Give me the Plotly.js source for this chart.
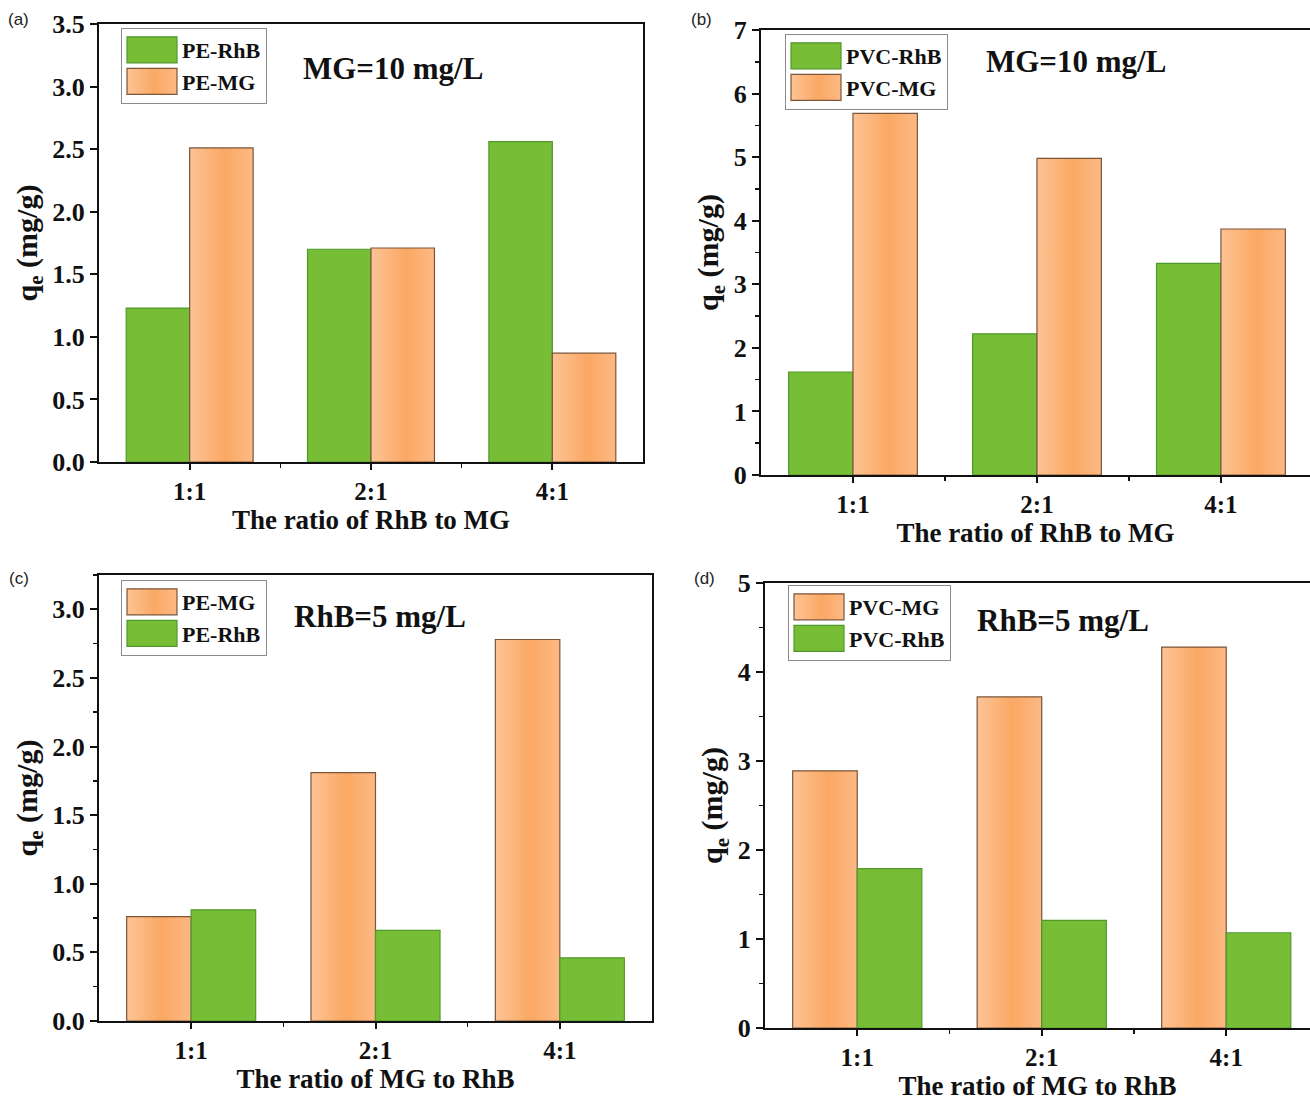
<!DOCTYPE html>
<html>
<head>
<meta charset="utf-8">
<script src="https://cdn.plot.ly/plotly-3.0.1.min.js"></script>
<style>
  html, body { margin: 0; padding: 0; background: #fff; }
  #chart { width: 1310px; height: 1101px; }
</style>
</head>
<body>
<div id="chart"></div>
<script>
// ---------------- data ----------------
const ratios = ['1:1', '2:1', '4:1'];

// (a) MG = 10 mg/L, ratio of RhB to MG
const peRhB_a = [1.23, 1.70, 2.56];
const peMG_a  = [2.51, 1.71, 0.87];
// (b) MG = 10 mg/L, ratio of RhB to MG
const pvcRhB_b = [1.62, 2.22, 3.33];
const pvcMG_b  = [5.69, 4.98, 3.87];
// (c) RhB = 5 mg/L, ratio of MG to RhB
const peMG_c  = [0.76, 1.81, 2.78];
const peRhB_c = [0.81, 0.66, 0.46];
// (d) RhB = 5 mg/L, ratio of MG to RhB
const pvcMG_d  = [2.89, 3.72, 4.28];
const pvcRhB_d = [1.79, 1.21, 1.07];

const panelLabels = ['(a)', '(b)', '(c)', '(d)'];
const noteTexts = ['MG=10 mg/L', 'MG=10 mg/L', 'RhB=5 mg/L', 'RhB=5 mg/L'];
const xTitles = ['The ratio of RhB to MG', 'The ratio of RhB to MG', 'The ratio of MG to RhB', 'The ratio of MG to RhB'];
const yTitle = 'q<sub>e</sub> (mg/g)';

// ---------------- style ----------------
const GREEN = '#77bd35', GREEN_LINE = '#4f9a2c';
const ORANGE = '#fbb072', ORANGE_LINE = '#7a5538';
const SERIF = 'Liberation Serif, Times New Roman, serif';
const xIdx = ratios.map((_, i) => i);

function bar(name, y, color, line, xa, ya, leg) {
  return {
    type: 'bar', name: name, x: xIdx, y: y,
    xaxis: xa, yaxis: ya, legend: leg,
    marker: { color: color, line: { color: line, width: 1.2 } },
    hoverinfo: 'y'
  };
}

const data = [
  bar('PE-RhB', peRhB_a, GREEN, GREEN_LINE, 'x', 'y', 'legend'),
  bar('PE-MG', peMG_a, ORANGE, ORANGE_LINE, 'x', 'y', 'legend'),
  bar('PVC-RhB', pvcRhB_b, GREEN, GREEN_LINE, 'x2', 'y2', 'legend2'),
  bar('PVC-MG', pvcMG_b, ORANGE, ORANGE_LINE, 'x2', 'y2', 'legend2'),
  bar('PE-MG', peMG_c, ORANGE, ORANGE_LINE, 'x3', 'y3', 'legend3'),
  bar('PE-RhB', peRhB_c, GREEN, GREEN_LINE, 'x3', 'y3', 'legend3'),
  bar('PVC-MG', pvcMG_d, ORANGE, ORANGE_LINE, 'x4', 'y4', 'legend4'),
  bar('PVC-RhB', pvcRhB_d, GREEN, GREEN_LINE, 'x4', 'y4', 'legend4')
];

const W = 1310, H = 1101;
const px = v => v / W;
const py = v => 1 - v / H;

function xaxis(dom, range, title, anchor) {
  return {
    domain: dom, range: range, anchor: anchor,
    tickmode: 'array', tickvals: xIdx, ticktext: ratios,
    ticks: 'outside', ticklen: 6, tickwidth: 2, tickcolor: '#111',
    minor: { tickmode: 'array', tickvals: [0.5, 1.5], ticks: 'outside', ticklen: 4, tickwidth: 1.5, tickcolor: '#111' },
    showline: true, linewidth: 2, linecolor: '#111', mirror: true,
    showgrid: false, zeroline: false, fixedrange: true,
    tickfont: { family: SERIF, size: 25, color: '#111', weight: 'bold' },
    title: { text: title, font: { family: SERIF, size: 27, color: '#111', weight: 'bold' }, standoff: 0 }
  };
}
function yaxis(dom, range, dtick, fmt, minor, anchor) {
  const a = {
    domain: dom, range: range, anchor: anchor,
    tickmode: 'linear', tick0: 0, dtick: dtick, tickformat: fmt,
    ticks: 'outside', ticklen: 7, tickwidth: 2, tickcolor: '#111',
    showline: true, linewidth: 2, linecolor: '#111', mirror: true,
    showgrid: false, zeroline: false, fixedrange: true,
    tickfont: { family: SERIF, size: 26, color: '#111', weight: 'bold' },
    title: { text: yTitle, font: { family: SERIF, size: 30, color: '#111', weight: 'bold' }, standoff: 6 }
  };
  if (minor) a.minor = { dtick: minor, tick0: 0, ticks: 'outside', ticklen: 4, tickwidth: 1.5, tickcolor: '#111' };
  return a;
}
function legend(x, y) {
  return {
    x: px(x), y: py(y), xref: 'paper', yref: 'paper', xanchor: 'left', yanchor: 'top',
    bgcolor: '#ffffff', bordercolor: '#8a8a8a', borderwidth: 1,
    font: { family: SERIF, size: 22, color: '#111', weight: 'bold' },
    itemwidth: 50, traceorder: 'normal', tracegroupgap: 0
  };
}
function note(text, x, y) {
  return { text: text, x: px(x), y: py(y), xref: 'paper', yref: 'paper', showarrow: false,
           xanchor: 'center', yanchor: 'middle',
           font: { family: SERIF, size: 31, color: '#111', weight: 'bold' } };
}
function plabel(text, x, y) {
  return { text: text, x: px(x), y: py(y), xref: 'paper', yref: 'paper', showarrow: false,
           xanchor: 'center', yanchor: 'middle',
           font: { family: 'Liberation Sans, Arial, sans-serif', size: 17, color: '#222' } };
}

const layout = {
  width: W, height: H,
  margin: { l: 0, r: 0, t: 0, b: 0 },
  paper_bgcolor: '#fff', plot_bgcolor: '#fff',
  barmode: 'group', bargap: 0.3, bargroupgap: 0,
  showlegend: true,
  xaxis:  xaxis([px(99), px(643)], [-0.5, 2.5], xTitles[0], 'y'),
  yaxis:  yaxis([py(462), py(24)], [0, 3.5], 0.5, '.1f', null, 'x'),
  xaxis2: xaxis([px(761), 1], [-0.5, 2.484], xTitles[1], 'y2'),
  yaxis2: yaxis([py(475), py(30)], [0, 7], 1, 'd', 0.5, 'x2'),
  xaxis3: xaxis([px(99), px(652)], [-0.5, 2.5], xTitles[2], 'y3'),
  yaxis3: yaxis([py(1021), py(575)], [0, 3.25], 0.5, '.1f', 0.25, 'x3'),
  xaxis4: xaxis([px(765), 1], [-0.5, 2.454], xTitles[3], 'y4'),
  yaxis4: yaxis([py(1028), py(583)], [0, 5], 1, 'd', 0.5, 'x4'),
  legend:  legend(121, 28),
  legend2: legend(785, 34),
  legend3: legend(121, 580),
  legend4: legend(788, 585),
  annotations: [
    note(noteTexts[0], 393, 68),
    note(noteTexts[1], 1076, 62),
    note(noteTexts[2], 380, 616),
    note(noteTexts[3], 1063, 620),
    plabel(panelLabels[0], 18, 19),
    plabel(panelLabels[1], 701, 19),
    plabel(panelLabels[2], 19, 578),
    plabel(panelLabels[3], 704, 578)
  ]
};

Plotly.newPlot('chart', data, layout, { displayModeBar: false, staticPlot: true }).then(function (gd) {
  // subtle horizontal gradient for the orange bars, enlarged legend swatches
  const svg = gd.querySelector('svg.main-svg');
  const ns = 'http://www.w3.org/2000/svg';
  let defs = svg.querySelector('defs');
  if (!defs) { defs = document.createElementNS(ns, 'defs'); svg.insertBefore(defs, svg.firstChild); }
  const g = document.createElementNS(ns, 'linearGradient');
  g.setAttribute('id', 'orangeGrad');
  g.setAttribute('x1', '0'); g.setAttribute('y1', '0'); g.setAttribute('x2', '1'); g.setAttribute('y2', '0');
  [['0', '#fdc395'], ['0.55', '#faa863'], ['1', '#fdb985']].forEach(function (s) {
    const st = document.createElementNS(ns, 'stop');
    st.setAttribute('offset', s[0]); st.setAttribute('stop-color', s[1]);
    g.appendChild(st);
  });
  defs.appendChild(g);
  const orangeRGB = 'rgb(251, 176, 114)';
  gd.querySelectorAll('path').forEach(function (p) {
    if (p.style.fill === orangeRGB) p.style.fill = 'url(#orangeGrad)';
  });
  gd.querySelectorAll('.legendpoints path').forEach(function (p) {
    p.setAttribute('d', 'M-25,13H25V-13H-25Z');
  });
});
</script>
</body>
</html>
